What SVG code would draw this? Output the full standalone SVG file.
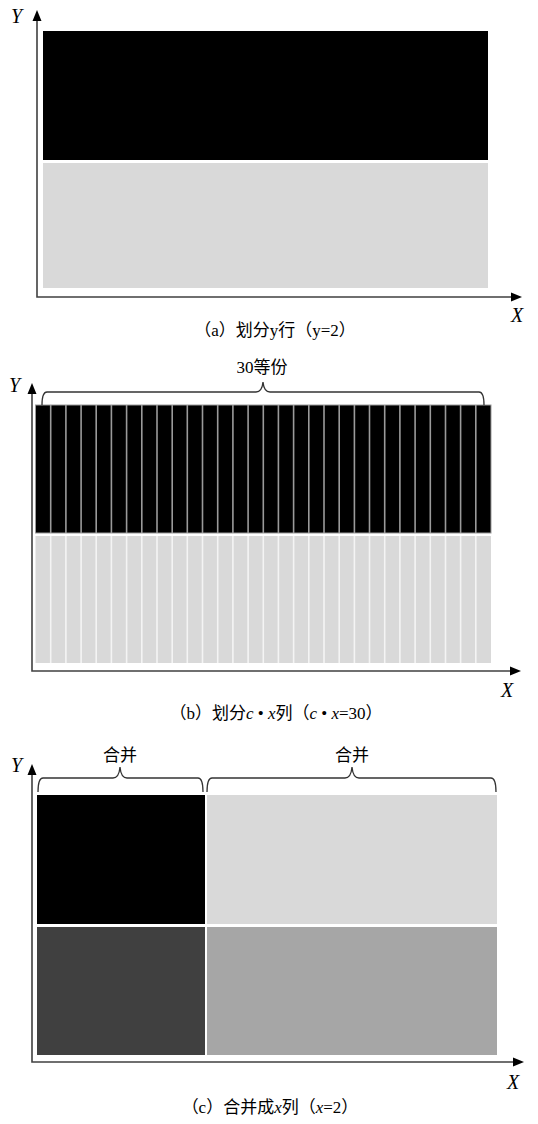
<svg xmlns="http://www.w3.org/2000/svg" width="538" height="1124" viewBox="0 0 538 1124">
<style>
.axis{stroke:#404040;stroke-width:1.6;fill:none}
.ah{fill:#000}
.lbl{font-family:"Liberation Serif",serif;font-style:italic;font-size:20px;fill:#000}
.cap{font-family:"Liberation Serif","Noto Sans CJK SC",serif;font-size:17px;fill:#000}
.it{font-style:italic}
.brace{stroke:#333;stroke-width:1.3;fill:none}
.bdiv{stroke:#9a9a9a;stroke-width:1.6}
.gdiv{stroke:#f4f4f4;stroke-width:1.6}
</style>
<rect width="538" height="1124" fill="#fff"/>

<g id="panel-a">
  <rect x="43" y="31" width="445" height="129" fill="#000"/>
  <rect x="43" y="163" width="445" height="125" fill="#d9d9d9"/>
  <text class="lbl" x="11" y="23">Y</text>
  <text class="lbl" x="511" y="322">X</text>
  <text class="cap" x="275" y="336" text-anchor="middle">（a）划分y行（y=2）</text>
</g>

<g id="panel-b">
  <rect x="35.5" y="405" width="455.5" height="128" fill="#000" stroke="#9a9a9a" stroke-width="1"/>
  <rect x="35.5" y="536" width="455.5" height="127" fill="#d9d9d9"/>
  <g id="dividers-b">
    <path class="bdiv" d="M50.7 405V533M65.9 405V533M81.1 405V533M96.2 405V533M111.4 405V533M126.6 405V533M141.8 405V533M157 405V533M172.2 405V533M187.3 405V533M202.5 405V533M217.7 405V533M232.9 405V533M248.1 405V533M263.3 405V533M278.4 405V533M293.6 405V533M308.8 405V533M324 405V533M339.2 405V533M354.4 405V533M369.5 405V533M384.7 405V533M399.9 405V533M415.1 405V533M430.3 405V533M445.5 405V533M460.6 405V533M475.8 405V533"/>
    <path class="gdiv" d="M50.7 536V663M65.9 536V663M81.1 536V663M96.2 536V663M111.4 536V663M126.6 536V663M141.8 536V663M157 536V663M172.2 536V663M187.3 536V663M202.5 536V663M217.7 536V663M232.9 536V663M248.1 536V663M263.3 536V663M278.4 536V663M293.6 536V663M308.8 536V663M324 536V663M339.2 536V663M354.4 536V663M369.5 536V663M384.7 536V663M399.9 536V663M415.1 536V663M430.3 536V663M445.5 536V663M460.6 536V663M475.8 536V663"/>
  </g>
  <text class="lbl" x="9" y="392">Y</text>
  <text class="lbl" x="501" y="697">X</text>
  <text class="cap" x="262" y="373" text-anchor="middle" font-size="18">30等份</text>
  <text class="cap" x="276" y="719" text-anchor="middle">（b）划分<tspan class="it">c</tspan> • <tspan class="it">x</tspan>列（<tspan class="it">c</tspan> • <tspan class="it">x</tspan>=30）</text>
</g>

<g id="panel-c">
  <rect x="37" y="795" width="168" height="129" fill="#000"/>
  <rect x="207" y="795" width="290" height="129" fill="#d9d9d9"/>
  <rect x="37" y="927" width="168" height="128" fill="#404040"/>
  <rect x="207" y="927" width="290" height="128" fill="#a6a6a6"/>
  <text class="lbl" x="11" y="772">Y</text>
  <text class="lbl" x="507" y="1089">X</text>
  <text class="cap" x="120" y="761" text-anchor="middle" font-size="18">合并</text>
  <text class="cap" x="352" y="761" text-anchor="middle" font-size="18">合并</text>
  <text class="cap" x="270" y="1113" text-anchor="middle">（c）合并成<tspan class="it">x</tspan>列（<tspan class="it">x</tspan>=2）</text>
</g>

<g id="connectors">
  <path class="axis" d="M37 20V297H513"/>
  <polygon class="ah" points="37,10 32.5,21 41.5,21"/>
  <polygon class="ah" points="522,297 511,292.5 511,301.5"/>
  <path class="axis" d="M32 393V671H511"/>
  <polygon class="ah" points="32,383 27.5,394 36.5,394"/>
  <polygon class="ah" points="521,671 510,666.5 510,675.5"/>
  <path class="axis" d="M32 774V1062H514"/>
  <polygon class="ah" points="32,764 27.5,775 36.5,775"/>
  <polygon class="ah" points="524,1062 513,1057.5 513,1066.5"/>
  <path class="brace" d="M42 405Q42 392 47 392H256Q262 392 263 382Q264 392 270 392H479Q484 392 484 405"/>
  <path class="brace" d="M38 792Q38 778 43 778H113Q119 778 120 767Q121 778 127 778H198Q203 778 203 792"/>
  <path class="brace" d="M207 792Q207 778 212 778H345Q351 778 352 767Q353 778 359 778H491Q496 778 496 792"/>
</g>
</svg>
